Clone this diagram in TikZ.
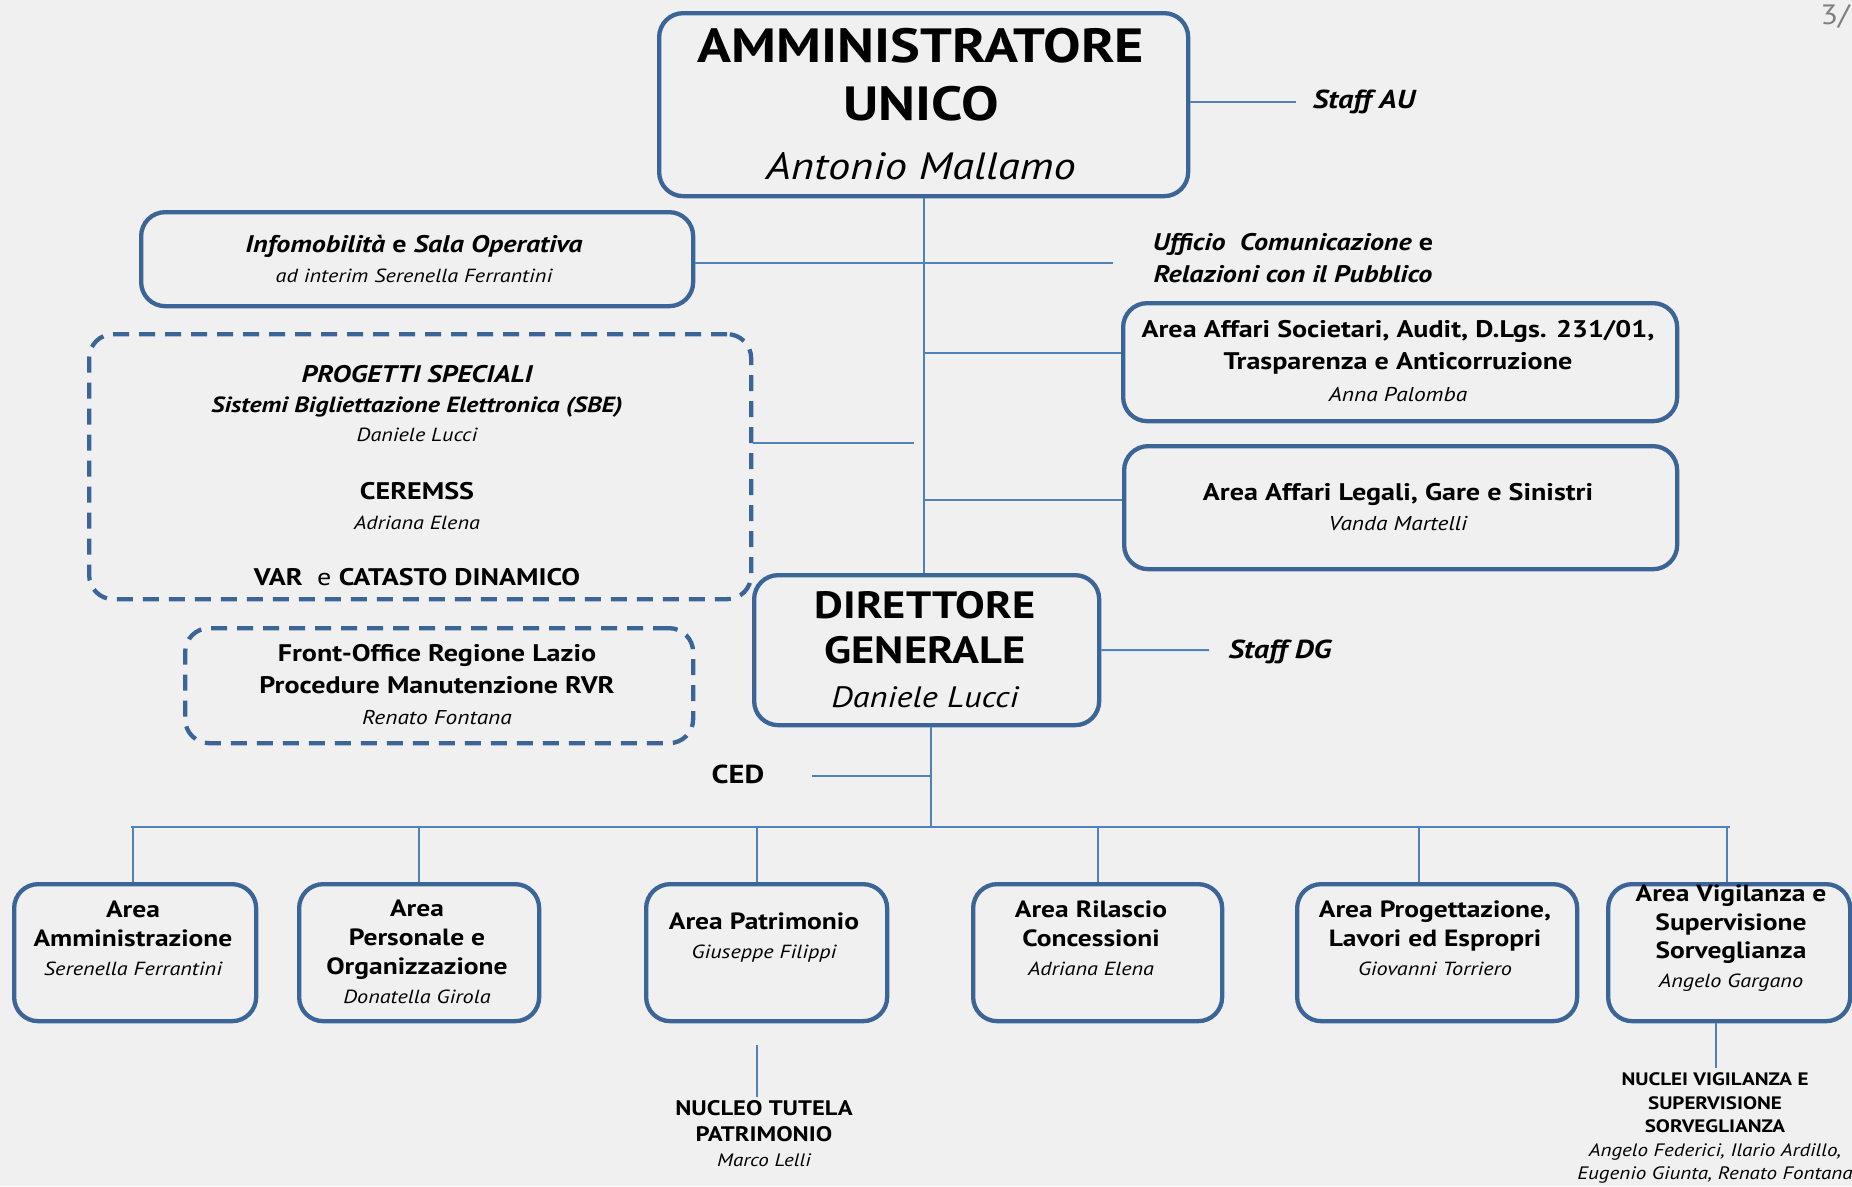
\documentclass[tikz,border=0pt]{standalone}
\usepackage{fontspec}
\setmainfont{PT Sans}[FakeStretch=1.17]
\definecolor{boxblue}{HTML}{3B6497}
\definecolor{linkblue}{HTML}{4F81BD}
\definecolor{bgc}{HTML}{F0F0F0}
\newcommand{\fs}[2]{\fontsize{#1}{#2}\selectfont}
\newcommand{\nm}{\normalfont\itshape}
\newcommand{\bi}{\bfseries\itshape}
\begin{document}
\begin{tikzpicture}[x=1pt,y=-1pt,
  box/.style={draw=boxblue, line width=4.3pt, rounded corners=24pt, inner sep=0pt, anchor=north west},
  dbox/.style={box, dash pattern=on 16pt off 10pt},
  txt/.style={inner sep=0pt, align=center, text=black},
  link/.style={draw=linkblue, line width=2pt}]
\fill[bgc] (0,0) rectangle (1852,1186);
\useasboundingbox (0,0) rectangle (1852,1186);

% ---- boxes
\node[box, minimum width=529pt, minimum height=183pt] (au) at (657,11) {};
\node[box, minimum width=552pt, minimum height=94pt] (info) at (139,210) {};
\node[dbox, minimum width=662pt, minimum height=265pt] (prog) at (87,332) {};
\node[dbox, minimum width=508pt, minimum height=115pt] (front) at (183,626) {};
\node[box, minimum width=554pt, minimum height=118pt] (soc) at (1121,301) {};
\node[box, minimum width=553pt, minimum height=123pt] (leg) at (1122,444) {};
\node[box, minimum width=345pt, minimum height=150pt] (dg) at (752,573) {};
\node[box, minimum width=242pt, minimum height=137pt] (b1) at (12,882) {};
\node[box, minimum width=240pt, minimum height=137pt] (b2) at (297,882) {};
\node[box, minimum width=241pt, minimum height=137pt] (b3) at (644,882) {};
\node[box, minimum width=249pt, minimum height=137pt] (b4) at (971,882) {};
\node[box, minimum width=280pt, minimum height=137pt] (b5) at (1295,882) {};
\node[box, minimum width=242pt, minimum height=137pt] (b6) at (1606,882) {};

% ---- texts
\node[txt, font=\fs{48}{58.5}] (auT) at (921,104) {\bfseries AMMINISTRATORE\\ \bfseries UNICO\\ \fs{38}{58.5}\nm Antonio Mallamo};
\node[txt, font=\fs{24}{30}] (infoT) at (414,259) {\bi Infomobilità \normalfont\bfseries e \bi Sala Operativa\\ \fs{19}{30}\nm ad interim Serenella Ferrantini};
\node[txt, font=\fs{24}{29.5}] (progA) at (417,404) {\bi PROGETTI SPECIALI\\ \fs{22}{29.5}\bi Sistemi Bigliettazione Elettronica (SBE)\\ \fs{19}{29.5}\nm Daniele Lucci};
\node[txt, font=\fs{24}{30}] (progB) at (417,506) {\bfseries CEREMSS\\ \fs{19}{30}\nm Adriana Elena};
\node[txt, font=\fs{24}{30}] (progC) at (417,577) {\bfseries VAR\ \ \normalfont e \bfseries CATASTO DINAMICO};
\node[txt, font=\fs{24}{31.5}] (frontT) at (437,685) {\bfseries Front-Office Regione Lazio\\ \bfseries Procedure Manutenzione RVR\\ \fs{20}{31.5}\nm Renato Fontana};
\node[txt, font=\fs{24}{32}] (uff) at (1293,258) {\bi Ufficio\ \ Comunicazione \normalfont\bfseries e\\ \bi Relazioni con il Pubblico};
\node[txt, font=\fs{24}{32}] (socT) at (1398,361) {\bfseries Area Affari Societari, Audit, D.Lgs. 231/01,\\ \bfseries Trasparenza e Anticorruzione\\ \fs{20}{32}\nm Anna Palomba};
\node[txt, font=\fs{24}{30}] (legT) at (1398,507) {\bfseries Area Affari Legali, Gare e Sinistri\\ \fs{20}{30}\nm Vanda Martelli};
\node[txt, font=\fs{38}{44.5}] (dgT) at (925,650) {\bfseries DIRETTORE\\ \bfseries GENERALE\\ \fs{29.5}{44.5}\nm Daniele Lucci};
\node[txt, font=\fs{26}{30}] (staffau) at (1364,102) {\bi Staff AU};
\node[txt, font=\fs{26}{30}] (staffdg) at (1280,652) {\bi Staff DG};
\node[txt, font=\fs{26}{30}] (ced) at (738,774) {\bfseries CED};
\node[txt, font=\fs{23.5}{29}] (b1T) at (133,938) {\bfseries Area\\ \bfseries Amministrazione\\ \fs{19}{29}\nm Serenella Ferrantini};
\node[txt, font=\fs{23.5}{29}] (b2T) at (417,952) {\bfseries Area\\ \bfseries Personale e\\ \bfseries Organizzazione\\ \fs{19}{29}\nm Donatella Girola};
\node[txt, font=\fs{23.5}{29}] (b3T) at (764,938) {\bfseries Area Patrimonio\\ \fs{19}{29}\nm Giuseppe Filippi};
\node[txt, font=\fs{23.5}{29}] (b4T) at (1091,938) {\bfseries Area Rilascio\\ \bfseries Concessioni\\ \fs{19}{29}\nm Adriana Elena};
\node[txt, font=\fs{23.5}{29}] (b5T) at (1435,938) {\bfseries Area Progettazione,\\ \bfseries Lavori ed Espropri\\ \fs{19}{29}\nm Giovanni Torriero};
\node[txt, font=\fs{23.5}{28.5}] (b6T) at (1731,938) {\bfseries Area Vigilanza e\\ \bfseries Supervisione\\ \bfseries Sorveglianza\\ \fs{19}{28.5}\nm Angelo Gargano};
\node[txt, font=\fs{21}{25.5}] (nucleo) at (764,1134) {\bfseries NUCLEO TUTELA\\ \bfseries PATRIMONIO\\ \fs{18}{25.5}\nm Marco Lelli};
\node[txt, font=\fs{18}{23.5}] (nuclei) at (1715,1128) {\bfseries NUCLEI VIGILANZA E\\ \bfseries SUPERVISIONE\\ \bfseries SORVEGLIANZA\\ \nm Angelo Federici, Ilario Ardillo,\\ \nm Eugenio Giunta, Renato Fontana};
\node[txt, text=gray, anchor=east, font=\fs{28}{30}] (pg) at (1850,16) {3/};

% ---- coordinates (free ends)
\coordinate (uffEnd) at (1113,263);
\coordinate (progEnd) at (914,443);
\coordinate (staffauEnd) at (1296,102);
\coordinate (staffdgEnd) at (1209,650);
\coordinate (cedStart) at (812,776);
\coordinate (busL) at (131,827);
\coordinate (busR) at (1730,827);

% ---- connectors
\draw[link] (au.south) -- (au.south |- dg.north);
\draw[link] (info.east |- uffEnd) -- (uffEnd);
\draw[link] (prog.east |- progEnd) -- (progEnd);
\draw[link] (au.south |- soc.west) ++(0,-9) -- ([yshift=9pt]soc.west);
\draw[link] (au.south |- leg.west) ++(0,-7.5) -- ([yshift=7.5pt]leg.west);
\draw[link] (au.east |- staffauEnd) -- (staffauEnd);
\draw[link] (dg.east) -- (staffdgEnd);
\draw[link] ([xshift=4.5pt]dg.south) -- ([xshift=4.5pt]dg.south |- busL);
\draw[link] (cedStart) -- ([xshift=4.5pt]dg.south |- cedStart);
\draw[link] (busL) -- (busR);
\draw[link] ([xshift=-2pt]b1.north |- busL) -- ([xshift=-2pt]b1.north);
\draw[link] (b2.north |- busL) -- (b2.north);
\draw[link] ([xshift=-9.5pt]b3.north |- busL) -- ([xshift=-9.5pt]b3.north);
\draw[link] (b4.north |- busL) -- (b4.north);
\draw[link] ([xshift=-18pt]b5.north |- busL) -- ([xshift=-18pt]b5.north);
\draw[link] ([xshift=-2pt]b6.north |- busL) -- ([xshift=-2pt]b6.north);
\draw[link] ([xshift=-9.5pt,yshift=-22pt]b3.south) -- ([xshift=-9.5pt,yshift=4pt]b3.south |- nucleo.north);
\draw[link] ([xshift=-13pt]b6.south) -- ([xshift=-13pt,yshift=4pt]b6.south |- nuclei.north);
\end{tikzpicture}
\end{document}
